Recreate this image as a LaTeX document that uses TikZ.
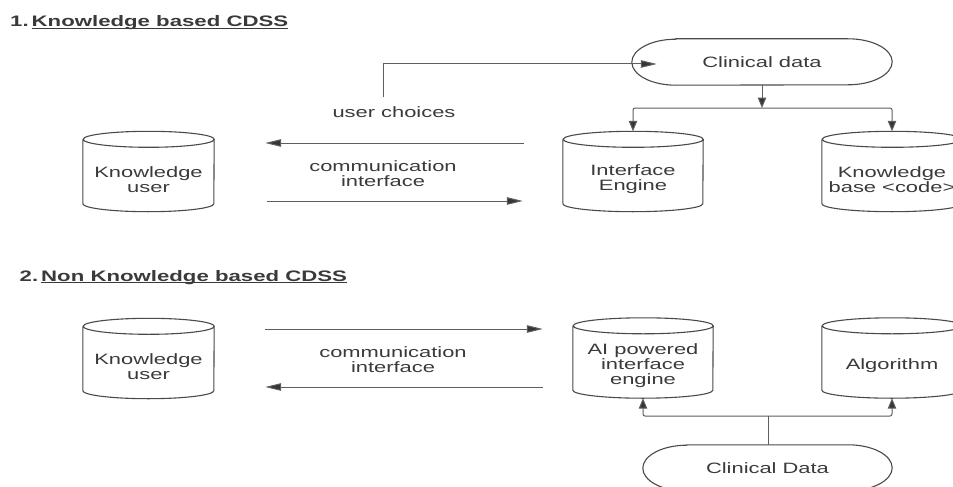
\documentclass[tikz,border=0pt]{standalone}
\usepackage{fontspec}
\setmainfont{Liberation Sans}[FakeStretch=1.46]
\usetikzlibrary{arrows.meta}

\definecolor{inkline}{HTML}{5E5E5E}
\definecolor{inkshape}{HTML}{4A4A4A}
\definecolor{inktext}{HTML}{3A3A3A}
\definecolor{inkhead}{HTML}{363636}

% outline of a vertical database cylinder around a node: name, x radius, y radius
\newcommand\cylout[3]{%
  \draw[shapeline] ([yshift=-#3]#1.north west) -- ([yshift=#3]#1.south west)
    arc[start angle=180, end angle=360, x radius=#2, y radius=#3]
    -- ([yshift=-#3]#1.north east)
    arc[start angle=0, end angle=180, x radius=#2, y radius=#3]
    arc[start angle=180, end angle=360, x radius=#2, y radius=#3];}

% outline of a terminal (stadium) shape around a node: name, x radius of the ends
\newcommand\stadout[2]{%
  \draw[shapeline] ([xshift=#2]#1.north west) -- ([xshift=-#2]#1.north east)
    arc[start angle=90, end angle=-90, x radius=#2, y radius=23pt]
    -- ([xshift=#2]#1.south west)
    arc[start angle=270, end angle=90, x radius=#2, y radius=23pt] -- cycle;}

\begin{document}
\begin{tikzpicture}[x=1pt, y=-1pt,
  txt/.style={font=\fontsize{15}{15}\selectfont, text=inktext, align=center},
  ttl/.style={font=\fontsize{15.2}{16}\selectfont\bfseries, text=inktext, inner sep=0pt},
  shapeline/.style={draw=inkshape, line width=1.1pt},
  conn/.style={draw=inkline, line width=1pt},
  harr/.style={conn, -{Triangle[length=16pt, width=7.5pt, fill=inkhead]}},
  varr/.style={conn, -{Triangle[length=10.5pt, width=8.5pt, fill=inkhead]}},
  cylnode/.style={minimum width=#1, minimum height=80pt, inner sep=0pt},
  stadnode/.style={minimum width=#1, minimum height=46pt, inner sep=0pt, txt},
  cyltext/.style={label={[txt, yshift=-8pt]center:{#1}}}
]
\useasboundingbox (0,0) rectangle (953,487);

% ---------- 1. Knowledge based CDSS ----------
\node[ttl, anchor=base west] (t1) at (10,26.5)
  {1.\hspace{3pt}\underline{\smash{Knowledge based CDSS}}};

\node[cylnode=131pt, cyltext={Knowledge\\user}] (ku1) at (148.5,171.5) {};
\node[cylnode=140pt, cyltext={Interface\\Engine}] (ie1) at (633,171.5) {};
\node[cylnode=140pt, cyltext={Knowledge\\base <code>}] (kb1) at (892,171.5) {};
\cylout{ku1}{65.5pt}{8pt}
\cylout{ie1}{70pt}{8pt}
\cylout{kb1}{70pt}{8pt}

\node[stadnode=260pt] (cd1) at (762,62) {Clinical data};
\stadout{cd1}{44pt}

\node[txt] (uc) at (394,112) {user choices};
\node[txt] (ci1) at (383,174) {communication\\interface};

\coordinate (ucstart) at (383,97);
\coordinate (split1) at (762,108);

\draw[harr] ([shift={(-39pt,28.5pt)}]ie1.west) -- ([shift={(51pt,28.5pt)}]ku1.east);
\draw[harr] ([shift={(53pt,-29.5pt)}]ku1.east) -- ([shift={(-40pt,-29.5pt)}]ie1.west);
\draw[harr] (ucstart) |- ([shift={(25pt,-2pt)}]cd1.west);
\draw[varr] (cd1.south) -- (split1);
\draw[varr, rounded corners=2pt] (split1) -| (ie1.north);
\draw[varr, rounded corners=2pt] (split1) -| (kb1.north);

% ---------- 2. Non Knowledge based CDSS ----------
\node[ttl, anchor=base west] (t2) at (19.5,281)
  {2.\hspace{3pt}\underline{\smash{Non Knowledge based CDSS}}};

\node[cylnode=131pt, cyltext={Knowledge\\user}] (ku2) at (148.5,358.5) {};
\node[cylnode=140pt, cyltext={AI powered\\interface\\engine}] (ai2) at (643,358) {};
\node[cylnode=140pt, cyltext={Algorithm}] (alg2) at (892,358) {};
\cylout{ku2}{65.5pt}{8pt}
\cylout{ai2}{70pt}{8pt}
\cylout{alg2}{70pt}{8pt}

\node[stadnode=249pt] (cd2) at (767.5,468) {Clinical Data};
\stadout{cd2}{44pt}

\node[txt] (ci2) at (393,360) {communication\\interface};

\coordinate (split2) at (768,416);

\draw[harr] ([shift={(51pt,29.5pt)}]ku2.east) -- ([shift={(-30pt,29pt)}]ai2.west);
\draw[harr] ([shift={(-30pt,-29pt)}]ai2.west) -- ([shift={(51pt,-28.5pt)}]ku2.east);
\draw[conn] (cd2.north -| split2) -- (split2);
\draw[varr, rounded corners=2pt] (split2) -| (ai2.south);
\draw[varr, rounded corners=2pt] (split2) -| (alg2.south);
\end{tikzpicture}
\end{document}
